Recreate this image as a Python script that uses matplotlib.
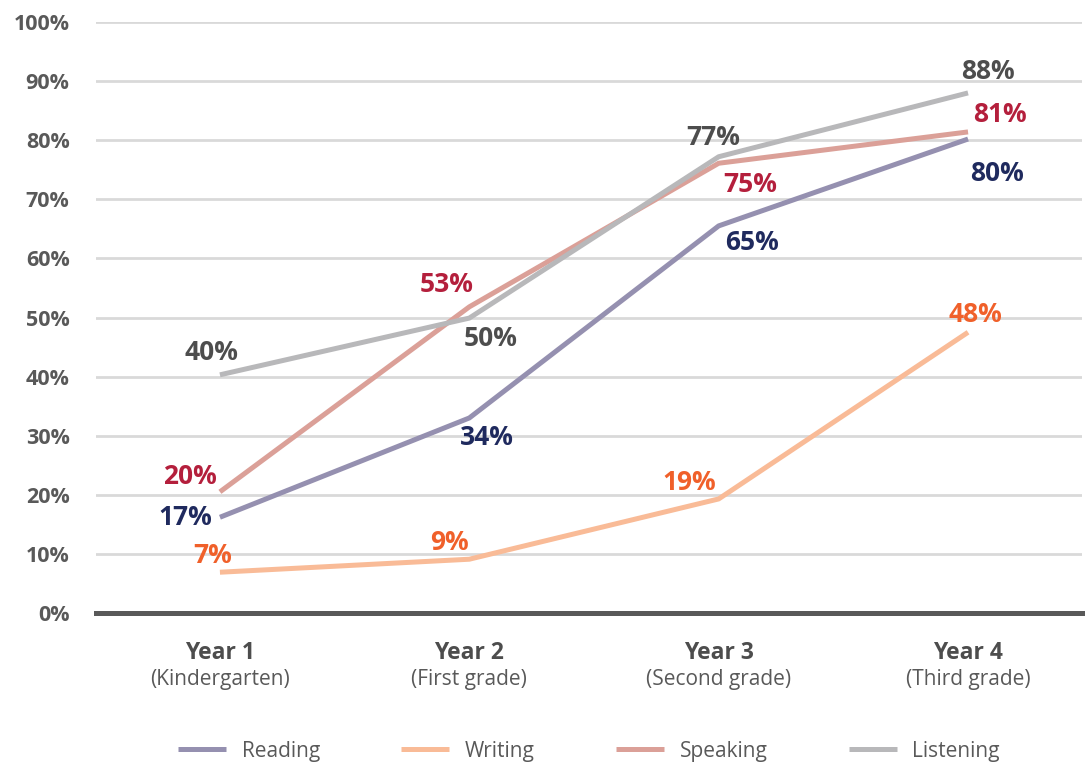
import matplotlib
matplotlib.use("Agg")
import matplotlib.pyplot as plt
from matplotlib.ticker import FuncFormatter

years = ["Year 1", "Year 2", "Year 3", "Year 4"]
grades = ["(Kindergarten)", "(First grade)", "(Second grade)", "(Third grade)"]

series = ["Reading", "Writing", "Speaking", "Listening"]
reading = [16.2, 33.0, 65.5, 80.2]
writing = [6.9, 9.1, 19.3, 47.5]
speaking = [20.5, 51.8, 76.1, 81.4]
listening = [40.3, 49.9, 77.2, 88.0]

reading_lbl = ["17%", "34%", "65%", "80%"]
writing_lbl = ["7%", "9%", "19%", "48%"]
speaking_lbl = ["20%", "53%", "75%", "81%"]
listening_lbl = ["40%", "50%", "77%", "88%"]

line_colors = ["#9590b0", "#f9bb97", "#dba098", "#b8b8ba"]
label_colors = ["#1f2a5e", "#f0602a", "#b41f3c", "#4d4d4d"]

# label offsets in pixels (dx, dy) relative to each point
offsets = [
    [(-35, 0), (18, -20), (33, -17), (29, -34)],
    [(-7, 17), (-20, 17), (-29, 16), (7, 18)],
    [(-30, 15), (-23, 22), (32, -21), (32, 17)],
    [(-8, 22), (21, -20), (-5, 19), (20, 21)],
]

plt.rcParams['font.family'] = ['Open Sans', 'DejaVu Sans']

fig = plt.figure(figsize=(10.88, 7.64), dpi=100)
ax = fig.add_axes([96 / 1088, 151 / 764, 986 / 1088, 591 / 764])

values = [reading, writing, speaking, listening]
labels = [reading_lbl, writing_lbl, speaking_lbl, listening_lbl]
x = list(range(len(years)))

for name, vals, lbls, lc, tc, offs in zip(series, values, labels, line_colors, label_colors, offsets):
    ax.plot(x, vals, color=lc, lw=3.6, label=name, solid_capstyle='butt', zorder=3)
    for xi, v, t, (dx, dy) in zip(x, vals, lbls, offs):
        ax.annotate(t, (xi, v), xytext=(dx, dy), textcoords='offset pixels',
                    ha='center', va='center', fontsize=19, fontweight='bold',
                    color=tc, zorder=4)

ax.set_xlim(-0.497, 3.457)
ax.set_ylim(0, 100)
ax.set_yticks(range(0, 101, 10))
ax.yaxis.set_major_formatter(FuncFormatter(lambda v, p: f"{int(v)}%"))
ax.tick_params(axis='y', length=0, pad=19, labelsize=15.5, labelcolor='#595959')
for t in ax.get_yticklabels():
    t.set_fontweight('bold')
ax.set_xticks([])
ax.grid(axis='y', color='#d9d9d9', lw=2)
ax.set_axisbelow(True)
for s in ['top', 'right', 'left']:
    ax.spines[s].set_visible(False)
ax.spines['bottom'].set_color('#595959')
ax.spines['bottom'].set_linewidth(3.6)
ax.spines['bottom'].set_zorder(5)

for xi, yr, gr in zip(x, years, grades):
    ax.text(xi, -40 / 591, yr, transform=ax.get_xaxis_transform(), ha='center', va='center',
            fontsize=16.5, fontweight='bold', color='#4d4d4d')
    ax.text(xi, -67 / 591, gr, transform=ax.get_xaxis_transform(), ha='center', va='center',
            fontsize=15, color='#595959')

fig.legend(loc='center', bbox_to_anchor=(589 / 1088, 1 - 751 / 764), ncol=4, frameon=False,
           fontsize=15, handlelength=2.3, handletextpad=0.75, columnspacing=3.9,
           labelcolor='#595959')

fig.savefig("out.png", dpi=100)
